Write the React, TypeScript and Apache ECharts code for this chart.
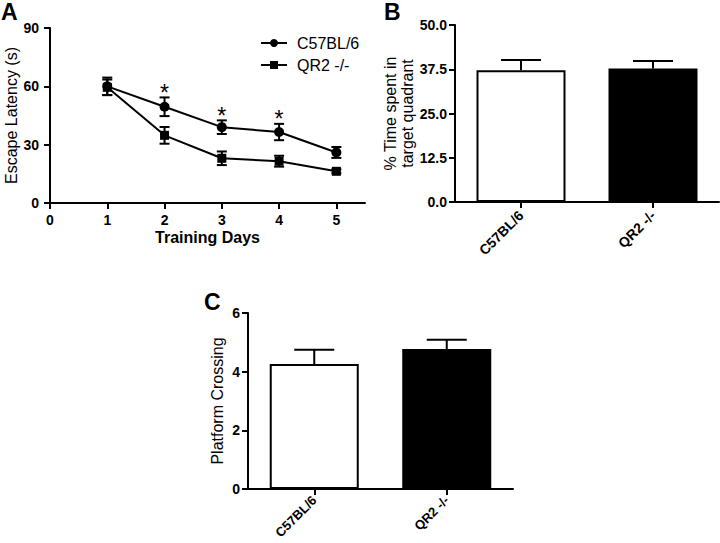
import React, { useEffect, useRef } from "react";
import * as echarts from "echarts";

// Panel A: escape latency
const days = [1, 2, 3, 4, 5];
const dayTicks = [0, 1, 2, 3, 4, 5];
const c57Mean = [60, 49.5, 39, 36.5, 26];
const c57Err = [4.5, 4.8, 3.5, 4.2, 2.8];
const qr2Mean = [59.5, 34.8, 23, 21.5, 16.3];
const qr2Err = [4, 4.3, 3.5, 2.8, 1];
const sig = [false, true, true, true, false];

// Panel B: time in target quadrant
const groups = ["C57BL/6", "QR2 -/-"];
const timeMean = [37.2, 37.7];
const timeErr = [2.9, 2.1];

// Panel C: platform crossings
const crossMean = [4.26, 4.77];
const crossErr = [0.49, 0.32];

const FONT = "Liberation Sans, Arial, sans-serif";

export default function App() {
  const ref = useRef<HTMLDivElement>(null);
  useEffect(() => {
    if (!ref.current) return;
    const chart = echarts.init(ref.current, undefined, { renderer: "svg" });

    const axisLine = { show: true, lineStyle: { color: "#000", width: 2 } };
    const axisTick = { show: true, length: 6, lineStyle: { color: "#000", width: 2 } };
    const tickLabel = { color: "#000", fontFamily: FONT, fontWeight: "bold" as const, fontSize: 14 };
    const nameStyle = { color: "#000", fontFamily: FONT, fontSize: 16 };

    const lineErr = (mean: number[], err: number[], stars: boolean[] | null, name: string) => ({
      type: "custom",
      name: name + " err",
      xAxisIndex: 0,
      yAxisIndex: 0,
      z: 1,
      data: days.map((d, i) => [d, mean[i], err[i], stars && stars[i] ? 1 : 0]),
      renderItem: (params: any, api: any) => {
        const x = api.value(0);
        const m = api.value(1);
        const e = api.value(2);
        const top = api.coord([x, m + e]);
        const bot = api.coord([x, m - e]);
        const hw = 5;
        const style = { stroke: "#000", lineWidth: 2 };
        const children: any[] = [
          { type: "line", shape: { x1: top[0], y1: top[1], x2: bot[0], y2: bot[1] }, style },
          { type: "line", shape: { x1: top[0] - hw, y1: top[1], x2: top[0] + hw, y2: top[1] }, style },
          { type: "line", shape: { x1: bot[0] - hw, y1: bot[1], x2: bot[0] + hw, y2: bot[1] }, style },
        ];
        if (api.value(3) === 1) {
          children.push({
            type: "text",
            style: {
              text: "*",
              x: top[0],
              y: top[1] - 16,
              align: "center",
              verticalAlign: "top",
              fontSize: 23,
              fontFamily: FONT,
              fill: "#000",
            },
          });
        }
        return { type: "group", children };
      },
    });

    const barErr = (mean: number[], err: number[], axisIdx: number) => ({
      type: "custom",
      xAxisIndex: axisIdx,
      yAxisIndex: axisIdx,
      z: 1,
      data: mean.map((m, i) => [i, m, err[i]]),
      renderItem: (params: any, api: any) => {
        const x = api.value(0);
        const m = api.value(1);
        const e = api.value(2);
        const base = api.coord([x, m]);
        const top = api.coord([x, m + e]);
        const hw = 20;
        const style = { stroke: "#000", lineWidth: 2 };
        return {
          type: "group",
          children: [
            { type: "line", shape: { x1: base[0], y1: base[1], x2: top[0], y2: top[1] }, style },
            { type: "line", shape: { x1: top[0] - hw, y1: top[1], x2: top[0] + hw, y2: top[1] }, style },
          ],
        };
      },
    });

    const barData = (vals: number[]) =>
      vals.map((v, i) => ({
        value: v,
        itemStyle: {
          color: i === 0 ? "#fff" : "#000",
          borderColor: "#000",
          borderWidth: 2,
        },
      }));

    chart.setOption({
      animation: false,
      backgroundColor: "#fff",
      textStyle: { fontFamily: FONT },
      graphic: [
        { type: "text", left: 1, top: 0, style: { text: "A", fontSize: 23, fontWeight: "bold", fontFamily: FONT, fill: "#000" } },
        { type: "text", left: 384, top: 0, style: { text: "B", fontSize: 23, fontWeight: "bold", fontFamily: FONT, fill: "#000" } },
        { type: "text", left: 204, top: 290, style: { text: "C", fontSize: 23, fontWeight: "bold", fontFamily: FONT, fill: "#000" } },
      ],
      legend: {
        left: 255,
        top: 30,
        orient: "vertical",
        itemWidth: 26,
        itemHeight: 10,
        itemGap: 6,
        data: ["C57BL/6", "QR2 -/-"],
        textStyle: { color: "#000", fontFamily: FONT, fontSize: 16, padding: [0, 0, 0, 5] },
      },
      grid: [
        { left: 50, top: 28, width: 315, height: 175, outerBoundsMode: "none", containLabel: false },
        { left: 455, top: 25, width: 264, height: 177, outerBoundsMode: "none", containLabel: false },
        { left: 248, top: 313, width: 265, height: 176, outerBoundsMode: "none", containLabel: false },
      ],
      xAxis: [
        {
          gridIndex: 0,
          type: "value",
          min: 0,
          max: 5.5,
          interval: 1,
          name: "Training Days",
          nameLocation: "middle",
          nameGap: 26,
          nameTextStyle: { ...nameStyle, fontWeight: "bold", fontSize: 16 },
          axisLine,
          axisTick: { ...axisTick, customValues: dayTicks },
          axisLabel: { ...tickLabel, margin: 10, customValues: dayTicks },
          splitLine: { show: false },
        },
        {
          gridIndex: 1,
          type: "category",
          data: groups,
          axisLine,
          axisTick: { ...axisTick, alignWithLabel: true },
          axisLabel: { ...tickLabel, rotate: 45, margin: 11, interval: 0 },
        },
        {
          gridIndex: 2,
          type: "category",
          data: groups,
          axisLine,
          axisTick: { ...axisTick, alignWithLabel: true },
          axisLabel: { ...tickLabel, fontSize: 13, rotate: 45, margin: 9, interval: 0 },
        },
      ],
      yAxis: [
        {
          gridIndex: 0,
          type: "value",
          min: 0,
          max: 90,
          interval: 30,
          name: "Escape Latency (s)",
          nameLocation: "middle",
          nameGap: 31,
          nameTextStyle: nameStyle,
          axisLine,
          axisTick,
          axisLabel: { ...tickLabel, margin: 11 },
          splitLine: { show: false },
        },
        {
          gridIndex: 1,
          type: "value",
          min: 0,
          max: 50,
          interval: 12.5,
          name: "% Time spent in\ntarget quadrant",
          nameLocation: "middle",
          nameGap: 34,
          nameTextStyle: { ...nameStyle, lineHeight: 17 },
          axisLine,
          axisTick,
          axisLabel: { ...tickLabel, margin: 8, formatter: (v: number) => v.toFixed(1) },
          splitLine: { show: false },
        },
        {
          gridIndex: 2,
          type: "value",
          min: 0,
          max: 6,
          interval: 2,
          name: "Platform Crossing",
          nameLocation: "middle",
          nameGap: 23,
          nameTextStyle: nameStyle,
          axisLine,
          axisTick,
          axisLabel: { ...tickLabel, margin: 8 },
          splitLine: { show: false },
        },
      ],
      series: [
        lineErr(c57Mean, c57Err, sig, "C57BL/6"),
        lineErr(qr2Mean, qr2Err, null, "QR2 -/-"),
        {
          type: "line",
          name: "C57BL/6",
          xAxisIndex: 0,
          yAxisIndex: 0,
          z: 3,
          data: days.map((d, i) => [d, c57Mean[i]]),
          symbol: "circle",
          symbolSize: 10,
          lineStyle: { color: "#000", width: 2 },
          itemStyle: { color: "#000" },
        },
        {
          type: "line",
          name: "QR2 -/-",
          xAxisIndex: 0,
          yAxisIndex: 0,
          z: 3,
          data: days.map((d, i) => [d, qr2Mean[i]]),
          symbol: "rect",
          symbolSize: 9,
          lineStyle: { color: "#000", width: 2 },
          itemStyle: { color: "#000" },
        },
        {
          type: "bar",
          xAxisIndex: 1,
          yAxisIndex: 1,
          barWidth: 89,
          z: 2,
          data: barData(timeMean),
        },
        barErr(timeMean, timeErr, 1),
        {
          type: "bar",
          xAxisIndex: 2,
          yAxisIndex: 2,
          barWidth: 89,
          z: 2,
          data: barData(crossMean),
        },
        barErr(crossMean, crossErr, 2),
      ],
    });
    return () => chart.dispose();
  }, []);
  return (
    <div
      ref={ref}
      style={{ position: "fixed", left: 0, top: 0, width: 720, height: 543, background: "#fff" }}
    />
  );
}
